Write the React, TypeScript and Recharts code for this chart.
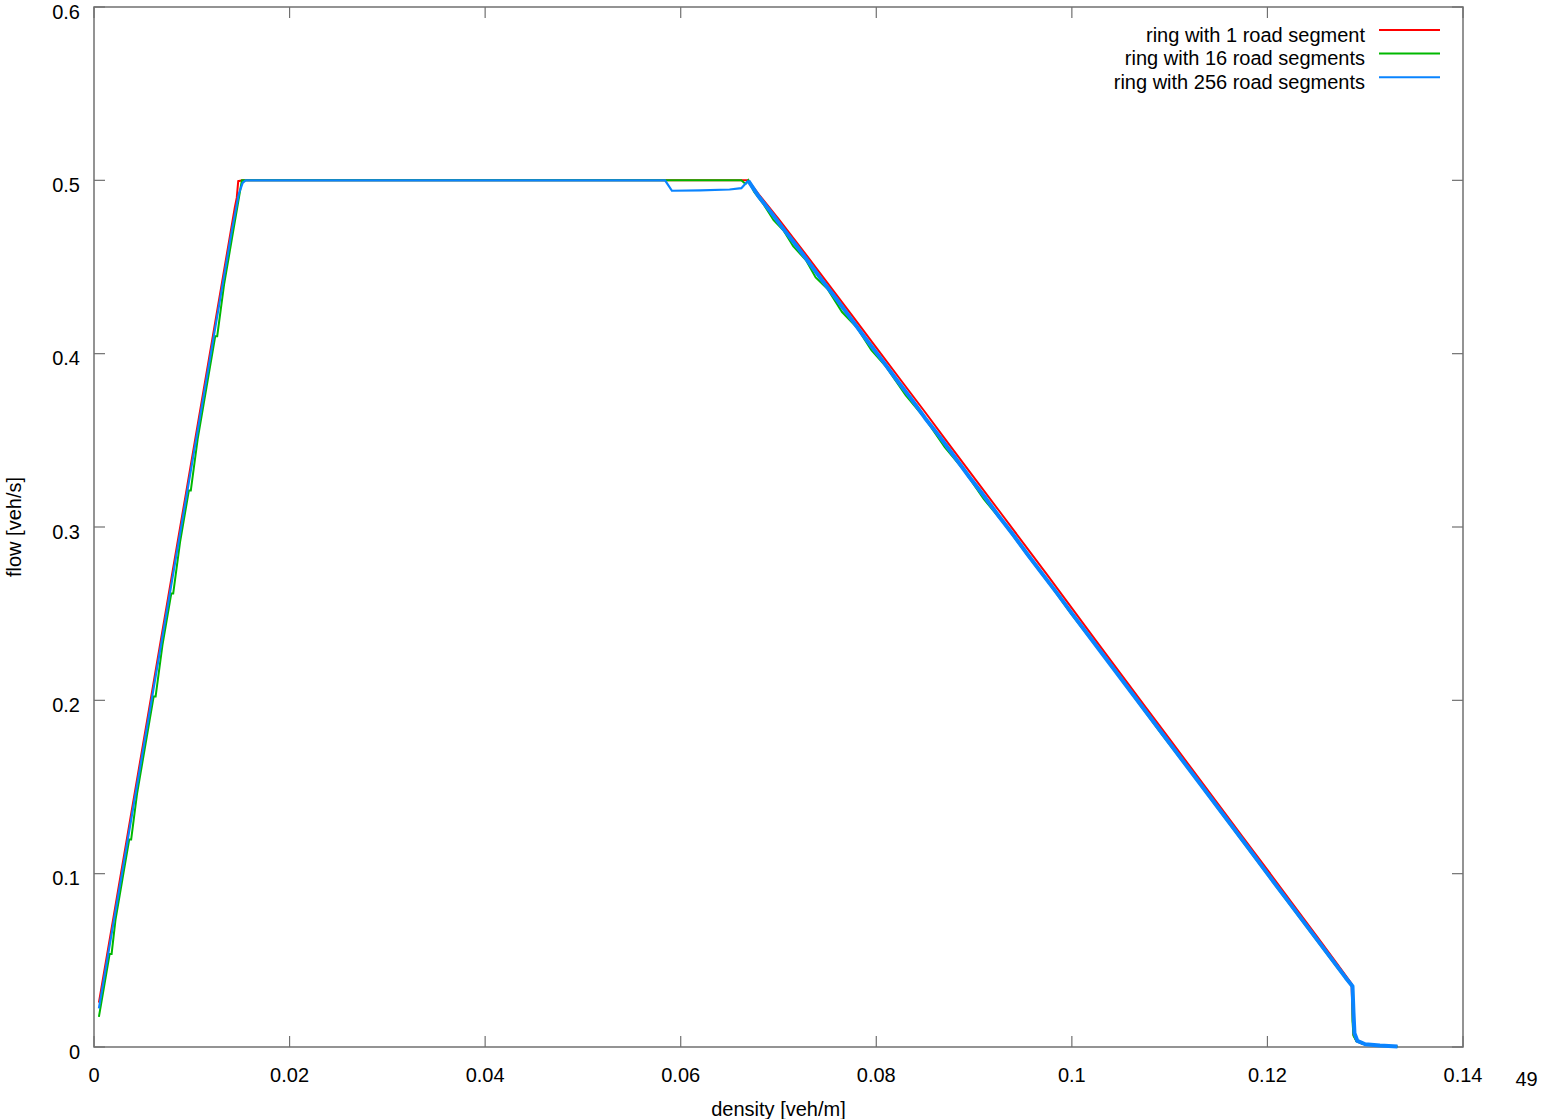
import {
  LineChart,
  Line,
  XAxis,
  YAxis,
  ReferenceArea,
  Legend,
} from "recharts";

type Pt = { x: number; y: number };

const pts = (rows: number[][]): Pt[] => rows.map(([x, y]) => ({ x, y }));

// density [veh/m] -> flow [veh/s]
const ring1 = pts([
  [0.0005, 0.0256], [0.001, 0.0421], [0.0015, 0.0586], [0.002, 0.0751],
  [0.0026, 0.0949], [0.0033, 0.118], [0.0041, 0.1444], [0.005, 0.1741],
  [0.0058, 0.2005], [0.0067, 0.2302], [0.0076, 0.2599], [0.0085, 0.2896],
  [0.0094, 0.3193], [0.0103, 0.349], [0.0112, 0.3787], [0.0121, 0.4084],
  [0.013, 0.4381], [0.0138, 0.4645], [0.0144, 0.4843], [0.0146, 0.49],
  [0.01475, 0.4995], [0.0152, 0.5], [0.0665, 0.5], [0.0669, 0.5],
  [0.068, 0.4918], [0.07, 0.4778], [0.0725, 0.4595], [0.075, 0.4408],
  [0.0775, 0.4222], [0.08, 0.4035], [0.0825, 0.3848], [0.085, 0.3662],
  [0.0875, 0.3472], [0.09, 0.3285], [0.0925, 0.3098], [0.095, 0.291],
  [0.0975, 0.2722], [0.1, 0.2532], [0.1025, 0.2342], [0.105, 0.2153],
  [0.1075, 0.1964], [0.11, 0.1776], [0.1125, 0.1587], [0.115, 0.1398],
  [0.1175, 0.121], [0.12, 0.1022], [0.1225, 0.0832], [0.125, 0.0643],
  [0.127, 0.049], [0.1286, 0.0366], [0.1287, 0.02], [0.1288, 0.007],
  [0.1291, 0.0035], [0.1297, 0.0018], [0.131, 0.0009], [0.1333, 0.0003],
]);

const ring16 = pts([
  [0.0005, 0.0174], [0.001, 0.0339], [0.0016, 0.0537], [0.0018, 0.0537],
  [0.0022, 0.0735], [0.0029, 0.0966], [0.0036, 0.1197], [0.0038, 0.1197],
  [0.0044, 0.1461], [0.0052, 0.1725], [0.0061, 0.2022], [0.0063, 0.2022],
  [0.007, 0.2319], [0.0079, 0.2616], [0.0081, 0.2616], [0.0088, 0.2913],
  [0.0097, 0.321], [0.0099, 0.321], [0.0106, 0.3507], [0.0115, 0.3804],
  [0.0124, 0.4101], [0.0126, 0.4101], [0.0133, 0.4398], [0.0141, 0.4662],
  [0.0147, 0.486], [0.015, 0.496], [0.01513, 0.5], [0.0662, 0.5],
  [0.0665, 0.4985], [0.0667, 0.4982], [0.0669, 0.5], [0.0675, 0.4935],
  [0.0685, 0.486], [0.0695, 0.477], [0.0705, 0.4712], [0.0715, 0.462],
  [0.0728, 0.454], [0.0738, 0.444], [0.075, 0.4375], [0.0765, 0.424],
  [0.078, 0.4152], [0.0795, 0.402], [0.081, 0.3925], [0.083, 0.376],
  [0.085, 0.3625], [0.087, 0.346], [0.089, 0.3325], [0.091, 0.316],
  [0.093, 0.3025], [0.0955, 0.2835], [0.098, 0.265], [0.1, 0.2495],
  [0.103, 0.2275], [0.106, 0.2048], [0.109, 0.182], [0.112, 0.1598],
  [0.115, 0.1372], [0.118, 0.1146], [0.121, 0.092], [0.124, 0.0695],
  [0.127, 0.047], [0.1287, 0.0345], [0.1287, 0.015], [0.1288, 0.0065],
  [0.1291, 0.0033], [0.1298, 0.0017], [0.1312, 0.0008], [0.1333, 0.0003],
]);

// 256 segments: free branch + plateau, then the noisy congested branch
const ring256Free = pts([
  [0.0005, 0.0223], [0.001, 0.0388], [0.0016, 0.0586], [0.0022, 0.0784],
  [0.0029, 0.1015], [0.0036, 0.1246], [0.0044, 0.151], [0.0052, 0.1774],
  [0.0061, 0.2071], [0.007, 0.2368], [0.0079, 0.2665], [0.0088, 0.2962],
  [0.0097, 0.3259], [0.0106, 0.3556], [0.0115, 0.3853], [0.0124, 0.415],
  [0.0133, 0.4447], [0.0141, 0.4711], [0.0148, 0.492], [0.0152, 0.4985],
  [0.0155, 0.5], [0.0584, 0.5], [0.0591, 0.494], [0.062, 0.4942],
  [0.065, 0.4947], [0.0662, 0.4955], [0.0669, 0.4998],
]);

const ring256Jam = pts([
  [0.0669, 0.4998], [0.068, 0.4905], [0.0692, 0.4818], [0.0705, 0.472],
  [0.0718, 0.4625], [0.073, 0.4535], [0.0745, 0.442], [0.076, 0.431],
  [0.0775, 0.4195], [0.079, 0.408], [0.0805, 0.397], [0.082, 0.3855],
  [0.0835, 0.3745], [0.085, 0.3628], [0.0865, 0.352], [0.088, 0.3405],
  [0.0895, 0.329], [0.091, 0.318], [0.0925, 0.3065], [0.094, 0.2955],
  [0.0955, 0.284], [0.097, 0.2728], [0.0985, 0.2617], [0.1, 0.2502],
  [0.102, 0.2352], [0.104, 0.2202], [0.106, 0.2052], [0.108, 0.1902],
  [0.11, 0.1752], [0.112, 0.1602], [0.114, 0.1452], [0.116, 0.1302],
  [0.118, 0.1152], [0.12, 0.1], [0.122, 0.085], [0.124, 0.07],
  [0.126, 0.055], [0.128, 0.04], [0.1287, 0.035], [0.1288, 0.02],
  [0.1289, 0.008], [0.1292, 0.0035], [0.13, 0.0016], [0.1315, 0.0008],
  [0.1333, 0.0003],
]);

const densityTicks = [0, 0.02, 0.04, 0.06, 0.08, 0.1, 0.12, 0.14];
const flowTicks = [0, 0.1, 0.2, 0.3, 0.4, 0.5, 0.6];

const FONT = '"Liberation Sans", Arial, sans-serif';
const FRAME = "#707070";
const TICK_LEN = 11;
const PLOT_W = 1369;
const PLOT_H = 1040;

function DensityTick(props: any) {
  const { x, y, payload } = props;
  return (
    <g>
      <line x1={x} x2={x} y1={y} y2={y - TICK_LEN} stroke={FRAME} strokeWidth={1.2} />
      <line x1={x} x2={x} y1={y - PLOT_H} y2={y - PLOT_H + TICK_LEN} stroke={FRAME} strokeWidth={1.2} />
      <text x={x} y={y + 35} textAnchor="middle" fontFamily={FONT} fontSize={20} fill="#000">
        {String(payload.value)}
      </text>
    </g>
  );
}

function FlowTick(props: any) {
  const { x, y, payload } = props;
  return (
    <g>
      <line x1={x} x2={x + TICK_LEN} y1={y} y2={y} stroke={FRAME} strokeWidth={1.2} />
      <line x1={x + PLOT_W} x2={x + PLOT_W - TICK_LEN} y1={y} y2={y} stroke={FRAME} strokeWidth={1.2} />
      <text x={x - 14} y={y + 11.5} textAnchor="end" fontFamily={FONT} fontSize={20} fill="#000">
        {String(payload.value)}
      </text>
    </g>
  );
}

function KeyBox(props: any) {
  const items = (props.payload || []).filter((p: any) => p.type !== "none");
  return (
    <svg width={345} height={100}>
      {items.map((item: any, i: number) => {
        const y = 30 + i * 23.6;
        return (
          <g key={item.value}>
            <text x={265} y={y + 11.7} textAnchor="end" fontFamily={FONT} fontSize={20} fill="#000">
              {item.value}
            </text>
            <line x1={279} x2={340} y1={y} y2={y} stroke={item.color} strokeWidth={2} />
          </g>
        );
      })}
    </svg>
  );
}

export default function App() {
  return (
    <div style={{ position: "absolute", left: 0, top: 0, background: "#fff" }}>
      <LineChart
        width={1541}
        height={1119}
        margin={{ top: 7, right: 78, bottom: 42, left: 40 }}
      >
        <XAxis
          type="number"
          dataKey="x"
          domain={[0, 0.14]}
          ticks={densityTicks}
          interval={0}
          height={30}
          tickSize={0}
          tickMargin={0}
          axisLine={false}
          tickLine={false}
          tick={(p: any) => <DensityTick {...p} />}
          label={(p: any) => {
            const vb = p.viewBox;
            return (
              <g>
                <text x={vb.x + vb.width / 2} y={vb.y + 69} textAnchor="middle" fontFamily={FONT} fontSize={20} fill="#000">
                  density [veh/m]
                </text>
                <text x={vb.x + vb.width + 63.5} y={vb.y + 39} textAnchor="middle" fontFamily={FONT} fontSize={20} fill="#000">
                  49
                </text>
              </g>
            );
          }}
        />
        <YAxis
          type="number"
          dataKey="y"
          domain={[0, 0.6]}
          ticks={flowTicks}
          interval={0}
          width={54}
          tickSize={0}
          tickMargin={0}
          axisLine={false}
          tickLine={false}
          tick={(p: any) => <FlowTick {...p} />}
          label={(p: any) => {
            const vb = p.viewBox;
            const cx = vb.x - 19.5;
            const cy = vb.y + vb.height / 2;
            return (
              <text x={cx} y={cy} transform={`rotate(-90, ${cx}, ${cy})`} textAnchor="middle" fontFamily={FONT} fontSize={20} fill="#000">
                flow [veh/s]
              </text>
            );
          }}
        />
        <ReferenceArea x1={0} x2={0.14} y1={0} y2={0.6} fill="none" stroke={FRAME} strokeWidth={1.5} />
        <Line data={ring1} dataKey="y" name="ring with 1 road segment" stroke="#ff0000" strokeWidth={2} dot={false} activeDot={false} isAnimationActive={false} />
        <Line data={ring16} dataKey="y" name="ring with 16 road segments" stroke="#00b800" strokeWidth={2} dot={false} activeDot={false} isAnimationActive={false} />
        <Line data={ring256Free} dataKey="y" name="ring with 256 road segments" stroke="#0a84ff" strokeWidth={2.2} dot={false} activeDot={false} isAnimationActive={false} />
        <Line data={ring256Jam} dataKey="y" name="ring256 jam" legendType="none" stroke="#0a84ff" strokeWidth={4} strokeLinejoin="round" dot={false} activeDot={false} isAnimationActive={false} />
        <Legend
          layout="vertical"
          align="center"
          verticalAlign="middle"
          content={(p: any) => <KeyBox {...p} />}
          wrapperStyle={{ position: "absolute", left: 1100, top: 0, width: 345, height: 100 }}
        />
      </LineChart>
    </div>
  );
}
